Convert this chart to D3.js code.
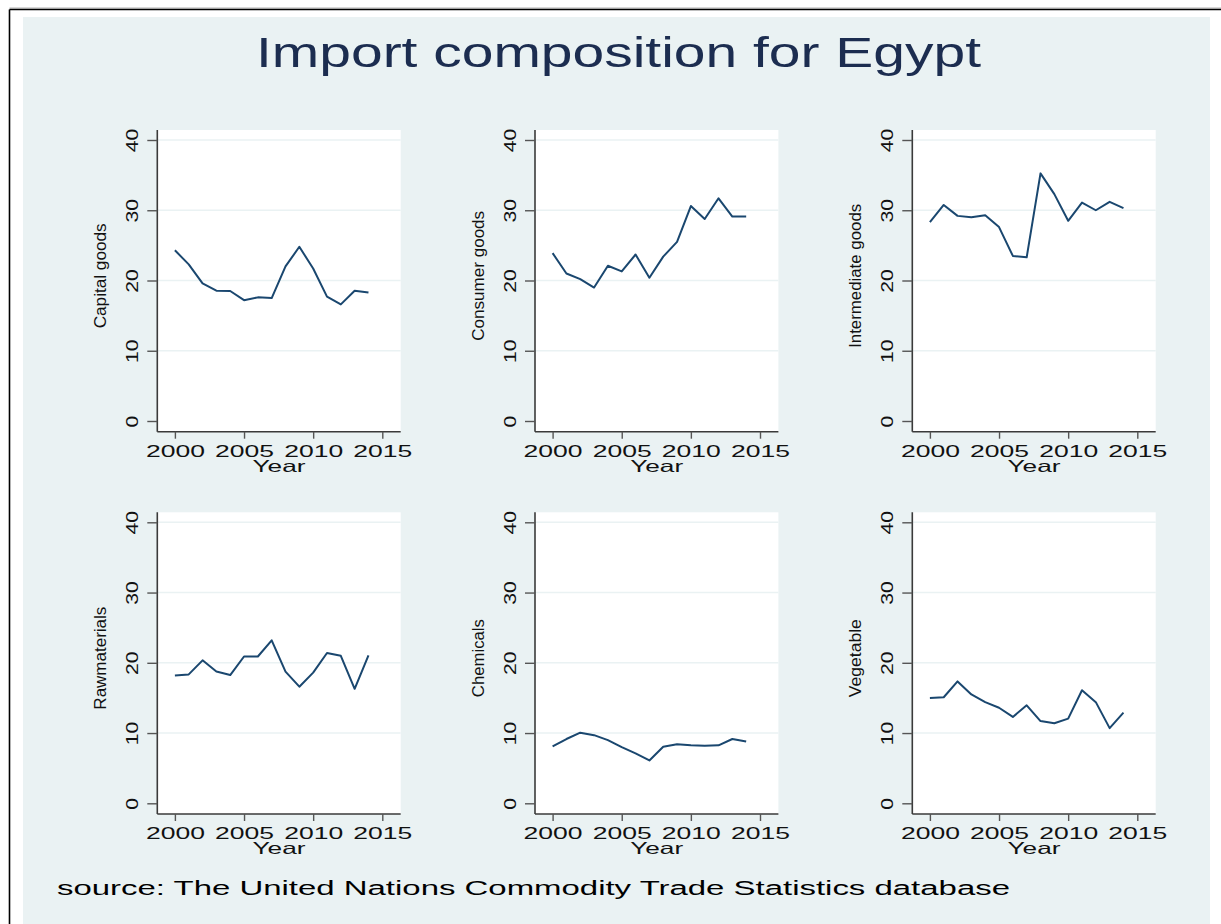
<!DOCTYPE html>
<html>
<head>
<meta charset="utf-8">
<script src="https://cdn.jsdelivr.net/npm/d3@7"></script>
<style>
  html, body { margin: 0; padding: 0; background: #ffffff; }
  svg { display: block; }
  text { font-family: "Liberation Sans", Arial, Helvetica, sans-serif; }
</style>
</head>
<body>
<svg id="chart" width="1221" height="924"></svg>
<script>
// ---- data ----
const years = [2000, 2001, 2002, 2003, 2004, 2005, 2006, 2007, 2008, 2009, 2010, 2011, 2012, 2013, 2014];
const capitalGoods      = [24.3, 22.3, 19.6, 18.55, 18.5, 17.2, 17.6, 17.5, 22.0, 24.8, 21.7, 17.7, 16.6, 18.55, 18.3];
const consumerGoods     = [23.9, 21.0, 20.2, 19.0, 22.1, 21.3, 23.7, 20.4, 23.4, 25.5, 30.6, 28.75, 31.7, 29.1, 29.1];
const intermediateGoods = [28.3, 30.75, 29.2, 29.0, 29.3, 27.6, 23.5, 23.3, 35.25, 32.3, 28.5, 31.1, 30.0, 31.2, 30.3];
const rawMaterials      = [18.2, 18.35, 20.35, 18.75, 18.25, 20.9, 20.9, 23.2, 18.75, 16.6, 18.6, 21.4, 21.0, 16.3, 21.05];
const chemicals         = [8.1, 9.15, 10.05, 9.7, 9.0, 8.0, 7.1, 6.1, 8.05, 8.4, 8.25, 8.2, 8.25, 9.15, 8.8];
const vegetable         = [15.0, 15.1, 17.35, 15.5, 14.4, 13.6, 12.3, 13.95, 11.7, 11.4, 12.05, 16.1, 14.4, 10.7, 12.9];

const panelTitles = ["Capital goods", "Consumer goods", "Intermediate goods", "Rawmaterials", "Chemicals", "Vegetable"];
const panelSeries = [capitalGoods, consumerGoods, intermediateGoods, rawMaterials, chemicals, vegetable];
const xTicks = [2000, 2005, 2010, 2015];
const yTicks = [0, 10, 20, 30, 40];
const xTitle = "Year";
const chartTitle = "Import composition for Egypt";
const sourceNote = "source: The United Nations Commodity Trade Statistics database";

// ---- layout ----
const svg = d3.select("#chart");
const W = 1221, H = 924;

// outer frame
svg.append("rect").attr("x", 0).attr("y", 0).attr("width", W).attr("height", H).attr("fill", "#ffffff");
svg.append("line").attr("x1", 9.5).attr("x2", W).attr("y1", 8).attr("y2", 8).attr("stroke", "#b0b0b0").attr("stroke-width", 1);
svg.append("line").attr("x1", 9.5).attr("x2", W).attr("y1", 9.5).attr("y2", 9.5).attr("stroke", "#000").attr("stroke-width", 1.6);
svg.append("line").attr("x1", 9.5).attr("x2", 9.5).attr("y1", 9.5).attr("y2", H).attr("stroke", "#000").attr("stroke-width", 1.6);
// graph region background
svg.append("rect").attr("x", 23).attr("y", 17).attr("width", 1210 - 23).attr("height", H - 17).attr("fill", "#eaf2f3");

// title
svg.append("text")
  .attr("x", 256).attr("y", 67)
  .attr("font-size", 42)
  .attr("fill", "#1c2d50")
  .attr("textLength", 725).attr("lengthAdjust", "spacingAndGlyphs")
  .text(chartTitle);

// source note
svg.append("text")
  .attr("x", 57).attr("y", 895)
  .attr("font-size", 20)
  .attr("fill", "#000")
  .attr("textLength", 953).attr("lengthAdjust", "spacingAndGlyphs")
  .text(sourceNote);

const colLefts = [157.3, 535, 912.3];
const rowTops = [130, 512.3];
const plotW = 243.4, plotH = 301.7;
const yTickLen = 10, xTickLen = 7;

panelSeries.forEach((series, i) => {
  const L = colLefts[i % 3];
  const T = rowTops[Math.floor(i / 3)];
  const B = T + plotH;
  const R = L + plotW;

  const x = d3.scaleLinear().domain([2000, 2015]).range([L + 17.6, L + 225]);
  const y = d3.scaleLinear().domain([0, 40]).range([T + 291, T + 10]);

  const g = svg.append("g");

  // plot region
  g.append("rect").attr("x", L).attr("y", T).attr("width", plotW).attr("height", plotH).attr("fill", "#ffffff");

  // gridlines
  g.selectAll(".grid").data(yTicks.filter(d => d > 0)).enter().append("line")
    .attr("x1", L).attr("x2", R)
    .attr("y1", d => y(d)).attr("y2", d => y(d))
    .attr("stroke", "#eaf2f3").attr("stroke-width", 1.6);

  // y axis
  const yAxis = d3.axisLeft(y).tickValues(yTicks).tickSize(yTickLen).tickPadding(0).tickFormat(d3.format("d"));
  const ya = g.append("g").attr("transform", `translate(${L},0)`).call(yAxis);
  ya.select(".domain").attr("d", `M0,${T}V${B}`).attr("stroke", "#3a3a3a").attr("stroke-width", 1.6);
  ya.selectAll(".tick line").attr("stroke", "#555").attr("stroke-width", 1.4);
  ya.selectAll(".tick text")
    .attr("x", 0).attr("y", 0).attr("dy", null)
    .attr("transform", "translate(-19,0) rotate(-90)")
    .attr("text-anchor", "middle")
    .attr("font-size", 16.5)
    .attr("fill", "#111")
    .each(function(d) {
      const s = String(d);
      d3.select(this).attr("textLength", s.length * 11.8).attr("lengthAdjust", "spacingAndGlyphs");
    });

  // x axis
  const xAxis = d3.axisBottom(x).tickValues(xTicks).tickSize(xTickLen).tickPadding(0).tickFormat(d3.format("d"));
  const xa = g.append("g").attr("transform", `translate(0,${B})`).call(xAxis);
  xa.select(".domain").attr("d", `M${L},0H${R}`).attr("stroke", "#3a3a3a").attr("stroke-width", 1.6);
  xa.selectAll(".tick line").attr("stroke", "#555").attr("stroke-width", 1.4);
  xa.selectAll(".tick text")
    .attr("y", 25).attr("dy", null)
    .attr("font-size", 16.5)
    .attr("fill", "#111")
    .attr("textLength", 59).attr("lengthAdjust", "spacingAndGlyphs");

  // axis titles
  g.append("text")
    .attr("x", (L + R) / 2).attr("y", B + 40)
    .attr("text-anchor", "middle")
    .attr("font-size", 16.5).attr("fill", "#111")
    .attr("textLength", 53).attr("lengthAdjust", "spacingAndGlyphs")
    .text(xTitle);

  const titleLens = [105, 130, 144, 103, 78, 78];
  g.append("text")
    .attr("transform", `translate(${L - 51},${(T + B) / 2 - 5}) rotate(-90)`)
    .attr("text-anchor", "middle")
    .attr("font-size", 16).attr("fill", "#111")
    .attr("textLength", titleLens[i]).attr("lengthAdjust", "spacingAndGlyphs")
    .text(panelTitles[i]);

  // line
  const line = d3.line().x((d, j) => x(years[j])).y(d => y(d));
  g.append("path").datum(series)
    .attr("d", line)
    .attr("fill", "none")
    .attr("stroke", "#1a476f")
    .attr("stroke-width", 2)
    .attr("stroke-linejoin", "round");
});
</script>
</body>
</html>
